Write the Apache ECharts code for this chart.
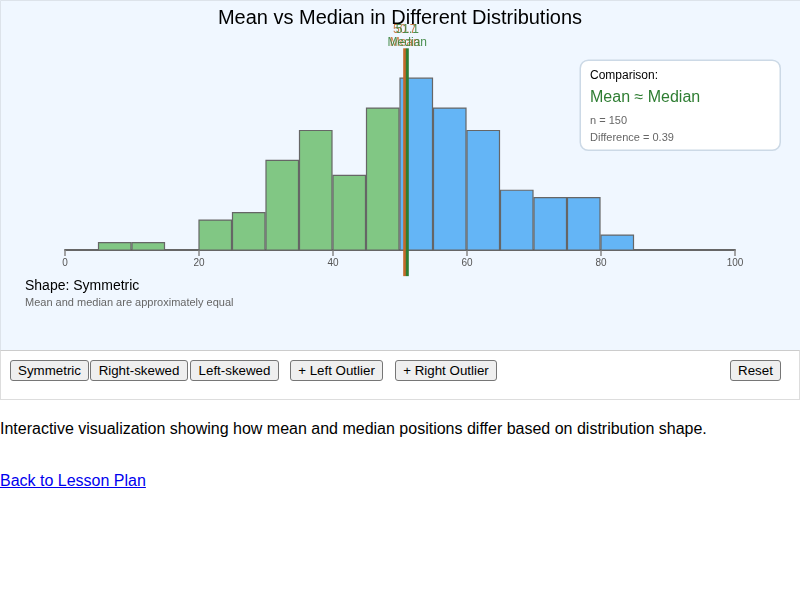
<!DOCTYPE html>
<html>
<head>
<meta charset="utf-8">
<title>Mean vs Median</title>
<script src="https://cdn.jsdelivr.net/npm/echarts@6/dist/echarts.min.js"></script>
<style>
  body { margin: 0; font-family: "Liberation Sans", Arial, sans-serif; background: #fff; }
  #chart { width: 800px; height: 350px; }
  #controls { position: relative; box-sizing: border-box; width: 800px; height: 50px; border: 1px solid #ddd; border-top: 1px solid #ccc; }
  #controls button { position: absolute; top: 9px; height: 21px; padding: 0; font: 13.33px "Liberation Sans", Arial, sans-serif; color: #000;
    background: #efefef; border: 1px solid #767676; border-radius: 3px; }
  p { position: absolute; margin: 0; left: 0; font-size: 16px; line-height: 18px; color: #000; }
  a { color: #00e; }
</style>
</head>
<body>
<div id="chart"></div>
<div id="controls">
  <button style="left:9px;width:79px">Symmetric</button>
  <button style="left:89px;width:98px">Right-skewed</button>
  <button style="left:189px;width:89px">Left-skewed</button>
  <button style="left:289px;width:93px">+ Left Outlier</button>
  <button style="left:394px;width:102px">+ Right Outlier</button>
  <button style="left:729px;width:51px">Reset</button>
</div>
<p style="top:420px">Interactive visualization showing how mean and median positions differ based on distribution shape.</p>
<p style="top:472px"><a href="#">Back to Lesson Plan</a></p>
<script>
  const binStarts = [5, 10, 20, 25, 30, 35, 40, 45, 50, 55, 60, 65, 70, 75, 80];
  const binCounts = [1, 1, 4, 5, 12, 16, 10, 19, 23, 19, 16, 8, 7, 7, 2];
  const binWidth = 5;
  const meanValue = 50.7;
  const medianValue = 51.09;
  const sampleSize = 150;

  const GREEN = '#81c784';
  const BLUE = '#64b5f6';
  const FONT = '"Liberation Sans", Arial, sans-serif';

  const chart = echarts.init(document.getElementById('chart'), null, { renderer: 'canvas' });

  // barra de histograma: se dibuja con las escalas de los ejes
  function renderBin(params, api) {
    const start = api.value(0);
    const p0 = api.coord([start, api.value(1)]);
    const p1 = api.coord([start + binWidth, 0]);
    return {
      type: 'rect',
      shape: { x: p0[0], y: p0[1], width: p1[0] - p0[0] - 1, height: p1[1] - p0[1] },
      style: { fill: start + binWidth <= 50 ? GREEN : BLUE, stroke: '#666', lineWidth: 1.2 }
    };
  }

  function statLine(value, name, color) {
    return {
      type: 'line',
      silent: true,
      symbol: 'none',
      clip: false,
      z: 5,
      lineStyle: { color, width: 3, cap: 'butt' },
      data: [
        [value, -3.5],
        {
          value: [value, 27],
          symbol: 'circle',
          symbolSize: 0.1,
          label: {
            show: true,
            position: 'top',
            distance: -1,
            color,
            opacity: 0.85,
            fontSize: 12,
            lineHeight: 13,
            fontFamily: FONT,
            formatter: value.toFixed(1) + '\n' + name
          }
        }
      ]
    };
  }

  const cardText = (left, top, text, fontSize, fill) => ({
    type: 'text',
    left,
    top,
    z: 11,
    style: { text, fill, font: fontSize + 'px ' + FONT }
  });

  chart.setOption({
    backgroundColor: '#f0f7ff',
    animation: false,
    title: {
      text: 'Mean vs Median in Different Distributions',
      left: 'center',
      top: 3,
      textStyle: { fontSize: 20, fontWeight: 'normal', color: '#000', fontFamily: FONT }
    },
    grid: { left: 65, right: 65, top: 55.78, height: 194.22 },
    xAxis: {
      type: 'value',
      min: 0,
      max: 100,
      interval: 20,
      splitLine: { show: false },
      axisLine: { lineStyle: { color: '#666', width: 2 } },
      axisTick: { show: true, length: 6, lineStyle: { color: '#888', width: 1.5 } },
      axisLabel: {
        color: '#555', fontSize: 10, margin: 8, showMinLabel: true, showMaxLabel: true,
        fontFamily: FONT
      }
    },
    yAxis: { type: 'value', min: 0, max: 26, show: false },
    graphic: [
      { type: 'rect', left: 0, top: 0, silent: true, z: 1,
        shape: { width: 800, height: 350 },
        style: { fill: 'transparent', stroke: '#dde3ea', lineWidth: 1 } },
      { type: 'rect', left: 579.5, top: 59.5, z: 10,
        shape: { width: 200, height: 90, r: 8 },
        style: { fill: '#fff', stroke: '#ccd9e6', lineWidth: 1.5 } },
      cardText(590, 70, 'Comparison:', 12, '#000'),
      cardText(590, 90, 'Mean ≈ Median', 16, '#2e7d32'),
      cardText(590, 115, 'n = ' + sampleSize, 11, '#666'),
      cardText(590, 132, 'Difference = ' + Math.abs(medianValue - meanValue).toFixed(2), 11, '#666'),
      cardText(25, 279, 'Shape: Symmetric', 14, '#000'),
      cardText(25, 297, 'Mean and median are approximately equal', 11, '#666')
    ],
    series: [
      {
        type: 'custom',
        silent: true,
        renderItem: renderBin,
        encode: { x: 0, y: 1 },
        data: binStarts.map((s, i) => [s, binCounts[i]])
      },
      statLine(meanValue, 'Mean', '#c4692a'),
      statLine(medianValue, 'Median', '#2e7d32')
    ]
  });
</script>
</body>
</html>
